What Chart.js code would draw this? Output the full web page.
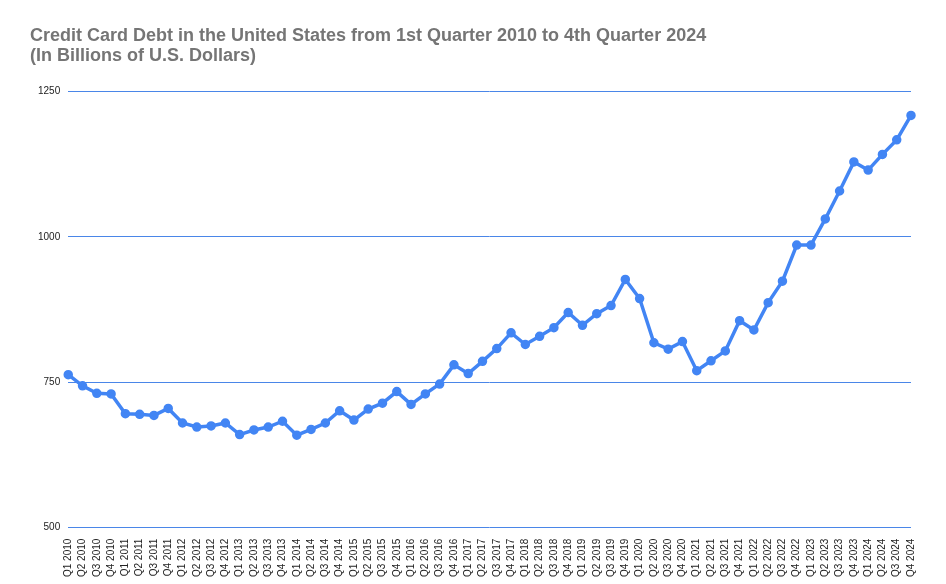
<!DOCTYPE html>
<html><head><meta charset="utf-8">
<script src="https://cdn.jsdelivr.net/npm/chart.js@4"></script>
<style>html,body{margin:0;padding:0;background:#fff}#w{width:946px;height:584px;position:relative}</style>
</head><body><div id="w"><canvas id="c"></canvas></div>
<script>
const years = [2010,2011,2012,2013,2014,2015,2016,2017,2018,2019,2020,2021,2022,2023,2024];
const categories = [];
years.forEach(y => { for (let q = 1; q <= 4; q++) categories.push('Q' + q + ' ' + y); });
const debtValues = [
  763,744,731,730, 696,695,693,705, 680,673,675,680, 660,668,673,683,
  659,669,680,701, 685,704,714,734, 712,730,747,780, 765,786,808,835,
  815,829,844,870, 848,868,882,927, 894,818,807,820, 770,787,804,856,
  840,887,924,986, 986,1031,1079,1129, 1115,1142,1167,1209
];
const yMin = 500, yMax = 1250, yStep = 250;
const titleLines = ['Credit Card Debt in the United States from 1st Quarter 2010 to 4th Quarter 2024','(In Billions of U.S. Dollars)'];

new Chart(document.getElementById('c'), {
  type: 'line',
  data: { labels: categories, datasets: [{
    data: debtValues, borderColor: '#4285f4', backgroundColor: '#4285f4',
    borderWidth: 3.5, pointRadius: 3, pointHoverRadius: 3, tension: 0
  }]},
  options: {
    responsive: true, maintainAspectRatio: false, animation: false,
    layout: { padding: { left: 30, right: 35, top: 6, bottom: 4 } },
    plugins: {
      legend: { display: false }, tooltip: { enabled: false },
      title: { display: true, text: titleLines, align: 'start', color: '#757575',
        font: { family: '"Liberation Sans", Arial, sans-serif', size: 18, weight: 'bold', lineHeight: 1.1 },
        padding: { top: 20, bottom: 26 } }
    },
    scales: {
      x: { offset: false, grid: { display: false }, border: { display: false },
        ticks: { autoSkip: false, maxRotation: 90, minRotation: 90, color: '#222',
          font: { family: '"Liberation Sans", Arial, sans-serif', size: 10 }, padding: 3 } },
      y: { min: yMin, max: yMax, ticks: { stepSize: yStep, color: '#222',
          font: { family: '"Liberation Sans", Arial, sans-serif', size: 10 }, padding: 8,
          callback: v => String(v) },
        grid: { color: '#4a86e8', lineWidth: 1, drawTicks: false }, border: { display: false } }
    }
  }
});
</script></body></html>
